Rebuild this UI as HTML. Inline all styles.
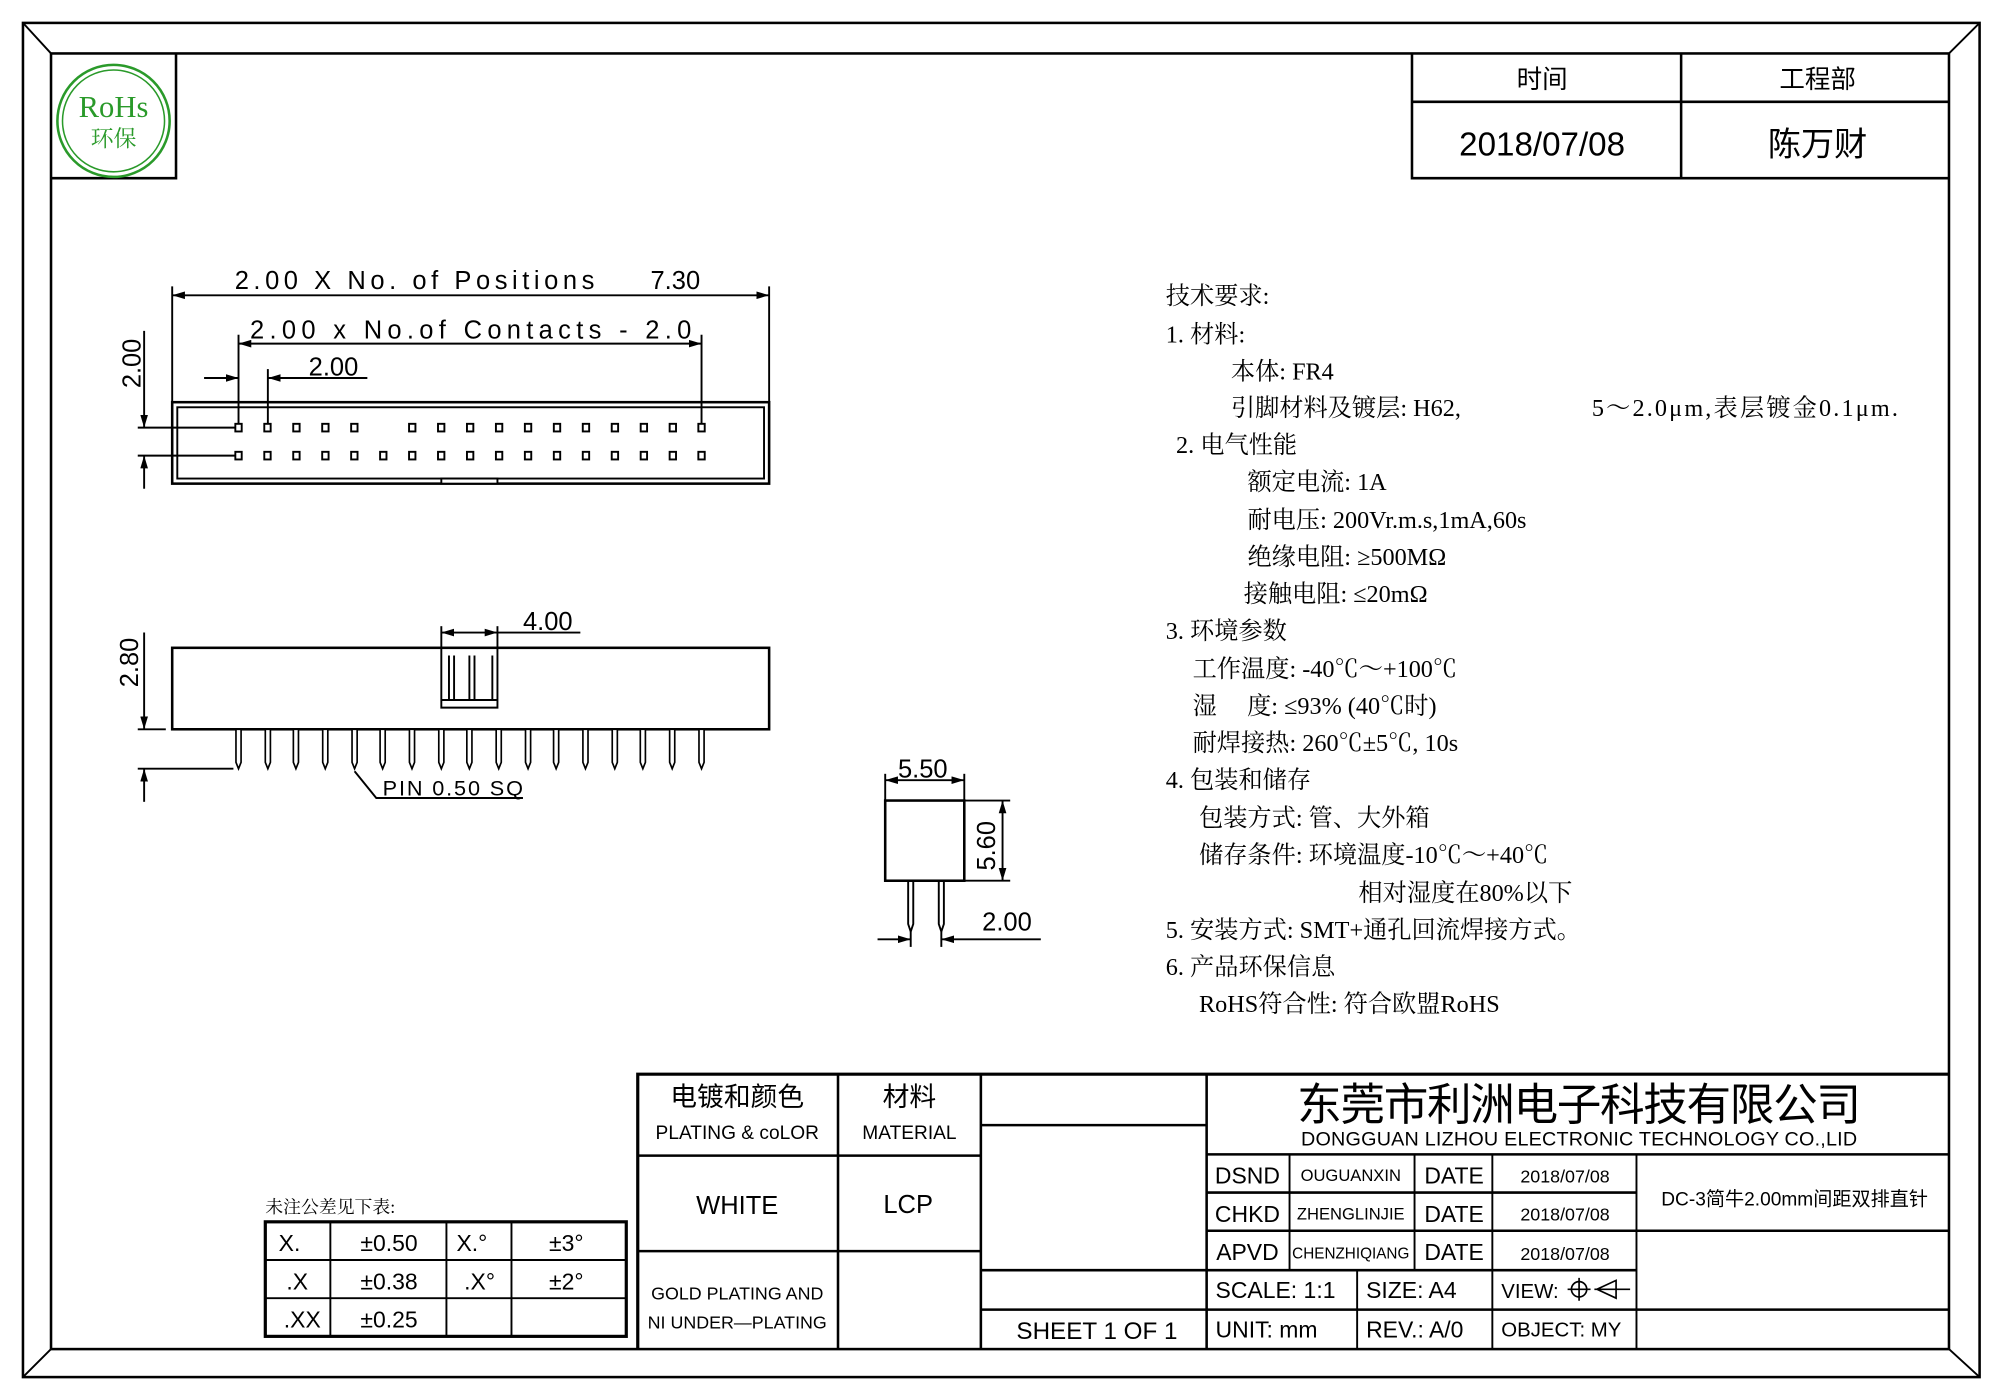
<!DOCTYPE html>
<html><head><meta charset="utf-8"><style>
html,body{margin:0;padding:0;background:#fff}
svg{display:block}
.s{font-family:"Liberation Sans","Noto Sans CJK SC",sans-serif}
.z{font-family:"Liberation Serif","Noto Serif CJK SC",serif}
</style></head><body>
<svg width="2000" height="1400" viewBox="0 0 1568 1100" preserveAspectRatio="none" xmlns="http://www.w3.org/2000/svg">
<defs>
<marker id="a" viewBox="0 0 10 6" refX="10" refY="3" markerWidth="10" markerHeight="6" markerUnits="userSpaceOnUse" orient="auto-start-reverse"><path d="M0,0 L10,3 L0,6 Z" fill="#000"/></marker>
</defs>
<rect width="1568" height="1100" fill="#fff"/>
<g fill="none" stroke="#000">
<rect x="18" y="18" width="1534" height="1064" stroke-width="2"/>
<rect x="40" y="42" width="1488" height="1018" stroke-width="2"/>
<path d="M18,18 L40,42 M1552,18 L1528,42 M18,1082 L40,1060 M1552,1082 L1528,1060" stroke-width="1.5"/>
<!-- rohs box -->
<path d="M40,140 H138 V42" stroke-width="2"/>
<circle cx="89" cy="95" r="44" stroke="#2a9a2a" stroke-width="2"/>
<circle cx="89" cy="95" r="40" stroke="#2a9a2a" stroke-width="1.2"/>
<!-- top right table -->
<path d="M1107,42 V140 H1528 M1318,42 V140 M1107,80 H1528" stroke-width="2"/>
</g>
<text x="89" y="92" class="z" font-size="24" fill="#2a9a2a" text-anchor="middle">RoHs</text>
<text x="89" y="115" class="z" font-size="18" fill="#2a9a2a" text-anchor="middle">环保</text>
<g class="s" text-anchor="middle" fill="#000">
<text x="1209" y="69" font-size="20">时间</text>
<text x="1425" y="69" font-size="20">工程部</text>
<text x="1209" y="122" font-size="26">2018/07/08</text>
<text x="1425" y="122" font-size="26">陈万财</text>
</g>

<!-- top view -->
<g fill="none" stroke="#000" stroke-width="1.5">
<rect x="135" y="316" width="468" height="64" stroke-width="2"/>
<rect x="139" y="320" width="460" height="56"/>
<rect x="346" y="376" width="44" height="4" fill="#fff"/>
<line x1="135" y1="232" x2="603" y2="232" marker-start="url(#a)" marker-end="url(#a)"/>
<line x1="135" y1="225" x2="135" y2="316"/>
<line x1="603" y1="225" x2="603" y2="316"/>
<line x1="187" y1="270" x2="550" y2="270" marker-start="url(#a)" marker-end="url(#a)"/>
<line x1="187" y1="263" x2="187" y2="336"/>
<line x1="550" y1="263" x2="550" y2="336"/>
<line x1="160" y1="297" x2="187" y2="297" marker-end="url(#a)"/>
<line x1="288" y1="297" x2="210" y2="297" marker-end="url(#a)"/>
<line x1="210" y1="290" x2="210" y2="336"/>
<line x1="113" y1="260" x2="113" y2="336" marker-end="url(#a)"/>
<line x1="113" y1="384" x2="113" y2="358" marker-end="url(#a)"/>
<line x1="108" y1="336" x2="187" y2="336"/>
<line x1="108" y1="358" x2="187" y2="358"/>
</g>
<g fill="#fff" stroke="#000" stroke-width="1.5" id="pins">
<rect x="184.5" y="333" width="5" height="6"/><rect x="207.2" y="333" width="5" height="6"/><rect x="229.9" y="333" width="5" height="6"/><rect x="252.6" y="333" width="5" height="6"/><rect x="275.3" y="333" width="5" height="6"/>
<rect x="320.7" y="333" width="5" height="6"/><rect x="343.4" y="333" width="5" height="6"/><rect x="366.1" y="333" width="5" height="6"/><rect x="388.8" y="333" width="5" height="6"/><rect x="411.5" y="333" width="5" height="6"/><rect x="434.2" y="333" width="5" height="6"/><rect x="456.9" y="333" width="5" height="6"/><rect x="479.6" y="333" width="5" height="6"/><rect x="502.3" y="333" width="5" height="6"/><rect x="525" y="333" width="5" height="6"/><rect x="547.5" y="333" width="5" height="6"/>
<rect x="184.5" y="355" width="5" height="6"/><rect x="207.2" y="355" width="5" height="6"/><rect x="229.9" y="355" width="5" height="6"/><rect x="252.6" y="355" width="5" height="6"/><rect x="275.3" y="355" width="5" height="6"/><rect x="298" y="355" width="5" height="6"/>
<rect x="320.7" y="355" width="5" height="6"/><rect x="343.4" y="355" width="5" height="6"/><rect x="366.1" y="355" width="5" height="6"/><rect x="388.8" y="355" width="5" height="6"/><rect x="411.5" y="355" width="5" height="6"/><rect x="434.2" y="355" width="5" height="6"/><rect x="456.9" y="355" width="5" height="6"/><rect x="479.6" y="355" width="5" height="6"/><rect x="502.3" y="355" width="5" height="6"/><rect x="525" y="355" width="5" height="6"/><rect x="547.5" y="355" width="5" height="6"/>
</g>
<g class="s" font-size="20" fill="#000">
<text x="184" y="227" textLength="282">2.00 X No. of Positions</text>
<text x="510" y="227">7.30</text>
<text x="196" y="266" textLength="346">2.00 x No.of Contacts - 2.0</text>
<text x="242" y="295">2.00</text>
<text transform="translate(110,305) rotate(-90)">2.00</text>
</g>

<!-- side view -->
<g fill="none" stroke="#000" stroke-width="1.5">
<rect x="135" y="509" width="468" height="64" stroke-width="2"/>
<path d="M346,509 V556 H390 V509 M346,550 H390 M352,515 V550 M368,515 V550 M386,515 V550 M356,515 V550 M372,515 V550 M390,515"/>
<line x1="346" y1="497" x2="390" y2="497" marker-start="url(#a)" marker-end="url(#a)"/>
<line x1="390" y1="497" x2="455" y2="497"/>
<line x1="346" y1="492" x2="346" y2="509"/>
<line x1="390" y1="492" x2="390" y2="509"/>
<line x1="113" y1="497" x2="113" y2="573" marker-end="url(#a)"/>
<line x1="113" y1="630" x2="113" y2="604" marker-end="url(#a)"/>
<line x1="108" y1="573" x2="130" y2="573"/>
<line x1="108" y1="604" x2="183" y2="604"/>
<path d="M278,606 L295,627 H410"/>
</g>
<g fill="#fff" stroke="#000" stroke-width="1.3">
<path d="M185,573 V599 L187,604 L189,599 V573 Z"/><path d="M208,573 V599 L210,604 L212,599 V573 Z"/><path d="M230,573 V599 L232,604 L234,599 V573 Z"/><path d="M253,573 V599 L255,604 L257,599 V573 Z"/><path d="M276,573 V599 L278,604 L280,599 V573 Z"/><path d="M298,573 V599 L300,604 L302,599 V573 Z"/><path d="M321,573 V599 L323,604 L325,599 V573 Z"/><path d="M344,573 V599 L346,604 L348,599 V573 Z"/><path d="M366,573 V599 L368,604 L370,599 V573 Z"/><path d="M389,573 V599 L391,604 L393,599 V573 Z"/><path d="M412,573 V599 L414,604 L416,599 V573 Z"/><path d="M434,573 V599 L436,604 L438,599 V573 Z"/><path d="M457,573 V599 L459,604 L461,599 V573 Z"/><path d="M480,573 V599 L482,604 L484,599 V573 Z"/><path d="M502,573 V599 L504,604 L506,599 V573 Z"/><path d="M525,573 V599 L527,604 L529,599 V573 Z"/><path d="M548,573 V599 L550,604 L552,599 V573 Z"/>
</g>
<g class="s" font-size="20" fill="#000">
<text x="410" y="495">4.00</text>
<text transform="translate(108,540) rotate(-90)">2.80</text>
<text x="300" y="625" font-size="17" textLength="110">PIN 0.50 SQ</text>
</g>

<!-- end view -->
<g fill="none" stroke="#000" stroke-width="1.5">
<rect x="694" y="629" width="62" height="63" stroke-width="2"/>
<path d="M712,692 V726 L714,732 L716,726 V692 M736,692 V726 L738,732 L740,726 V692"/>
<line x1="694" y1="613" x2="756" y2="613" marker-start="url(#a)" marker-end="url(#a)"/>
<line x1="694" y1="608" x2="694" y2="629"/><line x1="756" y1="608" x2="756" y2="629"/>
<line x1="786" y1="629" x2="786" y2="692" marker-start="url(#a)" marker-end="url(#a)"/>
<line x1="756" y1="629" x2="792" y2="629"/><line x1="756" y1="692" x2="792" y2="692"/>
<line x1="688" y1="738" x2="714" y2="738" marker-end="url(#a)"/>
<line x1="816" y1="738" x2="738" y2="738" marker-end="url(#a)"/>
<line x1="714" y1="732" x2="714" y2="744"/><line x1="738" y1="732" x2="738" y2="744"/>
</g>
<g class="s" font-size="20" fill="#000">
<text x="704" y="611">5.50</text>
<text transform="translate(780,684) rotate(-90)">5.60</text>
<text x="770" y="731">2.00</text>
</g>

<!-- tech requirements -->
<g class="z" font-size="19" fill="#000">
<text x="914" y="239">技术要求:</text>
<text x="914" y="269">1. 材料:</text>
<text x="965" y="298">本体:  FR4</text>
<text x="965" y="327">引脚材料及镀层: H62,</text>
<text x="1248" y="327" textLength="240">5～2.0μm,表层镀金0.1μm.</text>
<text x="922" y="356">2. 电气性能</text>
<text x="978" y="385">额定电流: 1A</text>
<text x="978" y="415">耐电压: 200Vr.m.s,1mA,60s</text>
<text x="978" y="444">绝缘电阻: ≥500MΩ</text>
<text x="975" y="473">接触电阻: ≤20mΩ</text>
<text x="914" y="502">3. 环境参数</text>
<text x="935" y="532">工作温度: -40℃～+100℃</text>
<text x="935" y="561">湿　  度: ≤93% (40℃时)</text>
<text x="935" y="590">耐焊接热: 260℃±5℃, 10s</text>
<text x="914" y="619">4. 包装和储存</text>
<text x="940" y="649">包装方式: 管、大外箱</text>
<text x="940" y="678">储存条件: 环境温度-10℃～+40℃</text>
<text x="1065" y="708">相对湿度在80%以下</text>
<text x="914" y="737">5. 安装方式: SMT+通孔回流焊接方式。</text>
<text x="914" y="766">6. 产品环保信息</text>
<text x="940" y="795">RoHS符合性:  符合欧盟RoHS</text>
</g>

<!-- tolerance table -->
<text x="208" y="953" class="z" font-size="14" fill="#000">未注公差见下表:</text>
<g fill="none" stroke="#000" stroke-width="1.5">
<rect x="208" y="960" width="283" height="90" stroke-width="2.5"/>
<path d="M208,990 H491 M208,1020 H491 M259,960 V1050 M350,960 V1050 M401,960 V1050"/>
</g>
<g class="s" font-size="18" fill="#000" text-anchor="middle">
<text x="227" y="983">X.</text><text x="305" y="983">±0.50</text><text x="370" y="983">X.°</text><text x="444" y="983">±3°</text>
<text x="233" y="1013">.X</text><text x="305" y="1013">±0.38</text><text x="376" y="1013">.X°</text><text x="444" y="1013">±2°</text>
<text x="237" y="1043">.XX</text><text x="305" y="1043">±0.25</text>
</g>

<!-- title block -->
<g fill="none" stroke="#000" stroke-width="1.5">
<path d="M500,1060 V844 H1528" stroke-width="2.5"/>
<path d="M657,844 V1060 M769,844 V1060 M946,844 V1060 M500,908 H769 M500,983 H769 M769,884 H946 M769,998 H946 M769,1029 H946" stroke-width="2"/>
<path d="M946,907 H1528 M946,967 H1528 M946,1029 H1528 M946,937 H1283 M946,998 H1283" stroke-width="2"/>
<path d="M1011,907 V998 M1109,907 V998 M1170,907 V1060 M1283,907 V1060 M1064,998 V1060"/>
</g>
<g class="s" fill="#000" text-anchor="middle">
<text x="578" y="869" font-size="21">电镀和颜色</text>
<text x="578" y="895" font-size="15">PLATING &amp; coLOR</text>
<text x="713" y="869" font-size="21">材料</text>
<text x="713" y="895" font-size="15">MATERIAL</text>
<text x="578" y="954" font-size="20">WHITE</text>
<text x="712" y="953" font-size="20">LCP</text>
<text x="578" y="1021" font-size="14">GOLD PLATING AND</text>
<text x="578" y="1044" font-size="14">NI UNDER—PLATING</text>
<text x="860" y="1052" font-size="19">SHEET 1 OF 1</text>
<text x="1238" y="880" font-size="35" textLength="442">东莞市利洲电子科技有限公司</text>
<text x="1238" y="900" font-size="15.5" textLength="436">DONGGUAN LIZHOU ELECTRONIC TECHNOLOGY CO.,LID</text>
<text x="978" y="930" font-size="18">DSND</text>
<text x="1059" y="928" font-size="13">OUGUANXIN</text>
<text x="1140" y="930" font-size="18">DATE</text>
<text x="1227" y="929" font-size="14">2018/07/08</text>
<text x="978" y="960" font-size="18">CHKD</text>
<text x="1059" y="958" font-size="13">ZHENGLINJIE</text>
<text x="1140" y="960" font-size="18">DATE</text>
<text x="1227" y="959" font-size="14">2018/07/08</text>
<text x="978" y="990" font-size="18">APVD</text>
<text x="1059" y="989" font-size="12">CHENZHIQIANG</text>
<text x="1140" y="990" font-size="18">DATE</text>
<text x="1227" y="990" font-size="14">2018/07/08</text>
<text x="1407" y="947" font-size="15">DC-3简牛2.00mm间距双排直针</text>
</g>
<g class="s" fill="#000" font-size="18">
<text x="953" y="1020">SCALE:  1:1</text>
<text x="1071" y="1020">SIZE:  A4</text>
<text x="1177" y="1020" font-size="16">VIEW:</text>
<text x="953" y="1051">UNIT:  mm</text>
<text x="1071" y="1051">REV.:  A/0</text>
<text x="1177" y="1050" font-size="16">OBJECT:  MY</text>
</g>
<g fill="none" stroke="#000" stroke-width="1.3">
<circle cx="1238" cy="1013" r="6"/><path d="M1229,1013 H1247 M1238,1004 V1022 M1252,1013 L1267,1006 V1020 Z M1250,1013 H1278"/>
</g>
</svg>
</body></html>
